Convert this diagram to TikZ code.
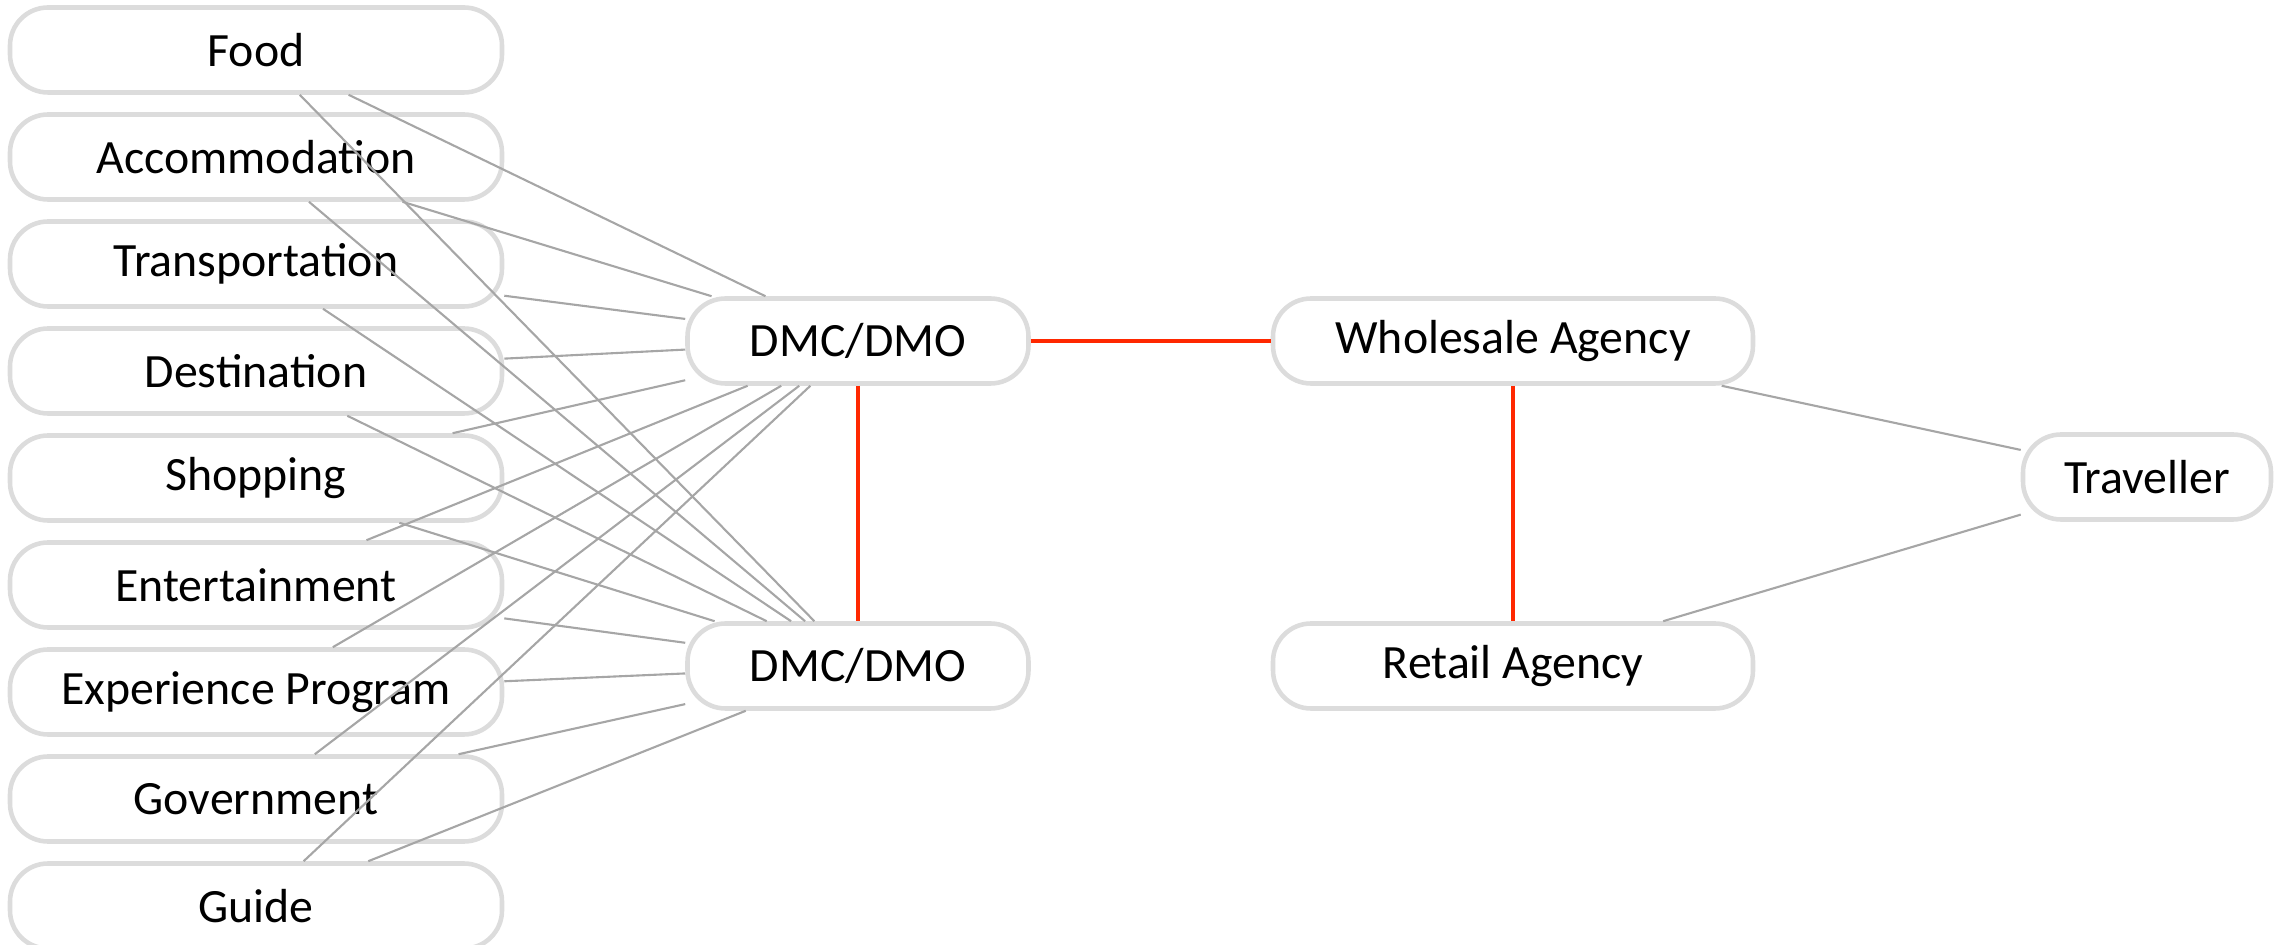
\documentclass[tikz,border=0pt]{standalone}
\usepackage{fontspec}
\setmainfont{Carlito}
\usetikzlibrary{positioning}
\definecolor{boxgray}{RGB}{220,220,220}
\definecolor{linkgray}{RGB}{166,166,166}
\definecolor{linkred}{RGB}{255,40,0}
\tikzset{
	every node/.style={font=\fontsize{13.6}{16}\selectfont},
	party/.style={draw=boxgray, line width=1.3pt, rounded corners=0.38cm, fill=white,
		minimum height=0.85cm, inner sep=0pt},
	supplier/.style={party, minimum width=4.92cm},
	link/.style={draw=linkgray, line width=0.6pt},
	deal/.style={draw=linkred, line width=1.4pt},
}

\begin{document}
\begin{tikzpicture}
        \useasboundingbox (0,0) rectangle (22.8,-9.45);
        % suppliers on the left
        \foreach \name/\txt [count=\i from 0] in {food/Food, accom/Accommodation,
                trans/Transportation, dest/Destination, shop/Shopping, ent/Entertainment,
                exp/Experience Program, gov/Government, guide/Guide}
            \node[supplier] (\name) at (2.56,{-0.5-1.07*\i}) {\txt};
        % agencies
        \node[party, minimum width=3.41cm] (dmcA) at (8.58,-3.41) {DMC/DMO};
        \node[party, minimum width=3.41cm] (dmcB) at (8.58,-6.66) {DMC/DMO};
        \node[party, minimum width=4.80cm] (wholesale) at (15.13,-3.41) {Wholesale Agency};
        \node[party, minimum width=4.80cm] (retail) at (15.13,-6.66) {Retail Agency};
        \node[party, minimum width=2.48cm] (traveller) at (21.47,-4.77) {Traveller};
        % links
        \foreach \name in {food,accom,trans,dest,shop,ent,exp,gov,guide}
            \draw[link] (\name) -- (dmcA) (\name) -- (dmcB);
        \draw[deal] (dmcA) -- (wholesale);
        \draw[deal] (dmcA) -- (dmcB);
        \draw[deal] (wholesale) -- (retail);
        \draw[link] (wholesale) -- (traveller);
        \draw[link] (traveller) -- (retail);
    \end{tikzpicture}
\end{document}
